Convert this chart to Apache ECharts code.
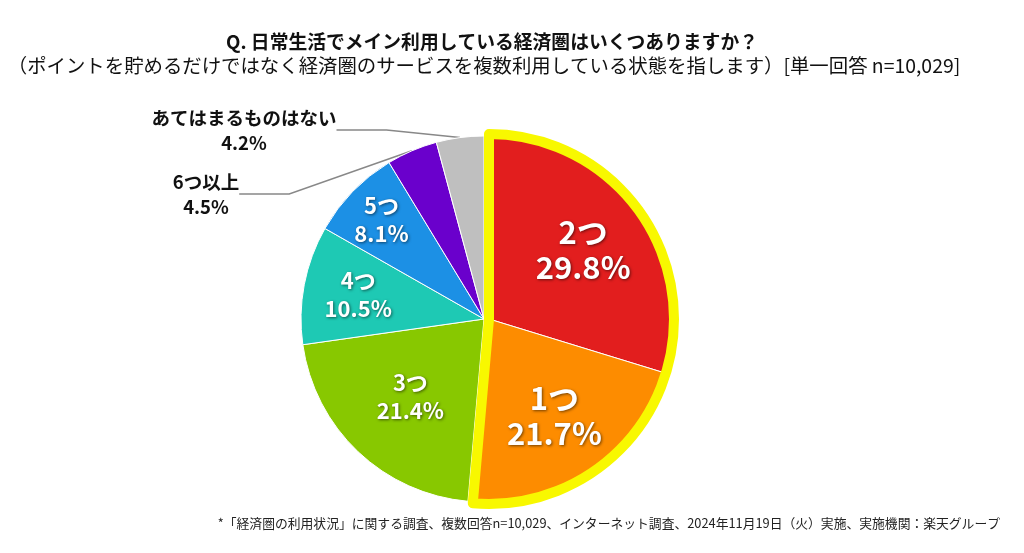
<!DOCTYPE html>
<html>
<head>
<meta charset="utf-8">
<title>経済圏の利用状況</title>
<script src="https://cdn.jsdelivr.net/npm/echarts@6/dist/echarts.min.js"></script>
<style>
  html, body { margin: 0; padding: 0; background: #fff; }
  #chart { width: 1024px; height: 553px; }
</style>
</head>
<body>
<div id="chart"></div>
<script>
// データ
var categories = ['2つ', '1つ', '3つ', '4つ', '5つ', '6つ以上', 'あてはまるものはない'];
var shares = [29.8, 21.7, 21.4, 10.5, 8.1, 4.5, 4.2];
var highlighted = [0, 1]; // 切り出して黄色枠で囲む項目

// 見た目
var colors = ['#e21e1e', '#fd8c00', '#88c800', '#1ec9b4', '#1c90e5', '#6a00cc', '#bfbfbf'];
var mainCenter = [484, 319];
var popCenter = [489, 319];
var labelRadius = [117, 117, 107, 128, 143];
var outsideSpots = { 5: [206, 194], 6: [244, 130] };
var fontFamily = '"Noto Sans CJK JP", "Noto Sans", sans-serif';

var isHi = function (i) { return highlighted.indexOf(i) >= 0; };
var none = 'rgba(0,0,0,0)';

function innerLabel(size, lh) {
    return {
        show: true, position: 'inside', color: '#fff', fontWeight: 'bold',
        fontFamily: fontFamily, fontSize: size, lineHeight: lh,
        textShadowColor: 'rgba(0,0,0,0.55)', textShadowBlur: 3,
        textShadowOffsetX: 1, textShadowOffsetY: 1,
        formatter: '{b}\n{c}%'
    };
}

function placeLabels(center) {
    return function (p) {
        var spot = outsideSpots[p.dataIndex];
        if (spot) {
            return { x: spot[0], y: spot[1], align: 'center', verticalAlign: 'middle' };
        }
        var lx = p.labelRect.x + p.labelRect.width / 2 - center[0];
        var ly = p.labelRect.y + p.labelRect.height / 2 - center[1];
        var d = Math.sqrt(lx * lx + ly * ly) || 1;
        var r = labelRadius[p.dataIndex];
        return { x: center[0] + lx / d * r, y: center[1] + ly / d * r,
                 align: 'center', verticalAlign: 'middle' };
    };
}

// 切り出さない部分
var mainData = categories.map(function (name, i) {
    var item = { name: name, value: shares[i] };
    if (isHi(i)) {
        item.itemStyle = { color: none, borderWidth: 0 };
        item.label = { show: false };
        item.labelLine = { show: false };
    } else if (outsideSpots[i]) {
        item.itemStyle = { color: colors[i] };
        item.label = {
            show: true, position: 'outside', color: '#111', fontWeight: 'bold',
            fontFamily: fontFamily, fontSize: 18.5, lineHeight: 25,
            formatter: '{b}\n{c}%'
        };
        item.labelLine = { show: true, length: 12, length2: 50,
            lineStyle: { color: '#888', width: 1.5 } };
    } else {
        item.itemStyle = { color: colors[i] };
        item.label = innerLabel(22, 28);
        item.labelLine = { show: false };
    }
    return item;
});

// 切り出す部分
var popData = categories.map(function (name, i) {
    var item = { name: name, value: shares[i] };
    if (isHi(i)) {
        item.itemStyle = { color: colors[i] };
        item.label = innerLabel(31, 35);
    } else {
        item.itemStyle = { color: none, borderWidth: 0 };
        item.label = { show: false };
    }
    item.labelLine = { show: false };
    return item;
});

var hiSum = 0, restSum = 0;
shares.forEach(function (v, i) { if (isHi(i)) hiSum += v; else restSum += v; });

var chart = echarts.init(document.getElementById('chart'));
chart.setOption({
    backgroundColor: '#fff',
    animation: false,
    graphic: [
        { type: 'text', x: 492, y: 42, silent: true,
          style: { text: 'Q. 日常生活でメイン利用している経済圏はいくつありますか？',
                   fill: '#111', font: 'bold 18.8px ' + fontFamily,
                   align: 'center', verticalAlign: 'middle' } },
        { type: 'text', x: 484, y: 66, silent: true,
          style: { text: '（ポイントを貯めるだけではなく経済圏のサービスを複数利用している状態を指します）[単一回答 n=10,029]',
                   fill: '#111', font: '19.4px ' + fontFamily,
                   align: 'center', verticalAlign: 'middle' } },
        { type: 'text', x: 1000, y: 523, silent: true,
          style: { text: '*「経済圏の利用状況」に関する調査、複数回答n=10,029、インターネット調査、2024年11月19日（火）実施、実施機関：楽天グループ',
                   fill: '#222', font: '12.8px ' + fontFamily,
                   align: 'right', verticalAlign: 'middle' } }
    ],
    series: [
        {
            type: 'pie', center: mainCenter, radius: [0, 183],
            startAngle: 90, clockwise: true, avoidLabelOverlap: false,
            itemStyle: { borderColor: '#fff', borderWidth: 1 },
            emphasis: { disabled: true },
            labelLayout: placeLabels(mainCenter),
            data: mainData
        },
        {
            type: 'pie', center: popCenter, radius: [0, 185],
            startAngle: 90, clockwise: true, avoidLabelOverlap: false,
            itemStyle: { borderColor: '#fff', borderWidth: 1 },
            emphasis: { disabled: true },
            labelLayout: placeLabels(popCenter),
            data: popData
        },
        {
            type: 'pie', center: popCenter, radius: [0, 185],
            startAngle: 90, clockwise: true, silent: true,
            emphasis: { disabled: true },
            label: { show: false }, labelLine: { show: false },
            data: [
                { value: hiSum, itemStyle: { color: none, borderColor: '#f8f800', borderWidth: 10 } },
                { value: restSum, itemStyle: { color: none, borderWidth: 0 } }
            ]
        }
    ]
});
</script>
</body>
</html>
